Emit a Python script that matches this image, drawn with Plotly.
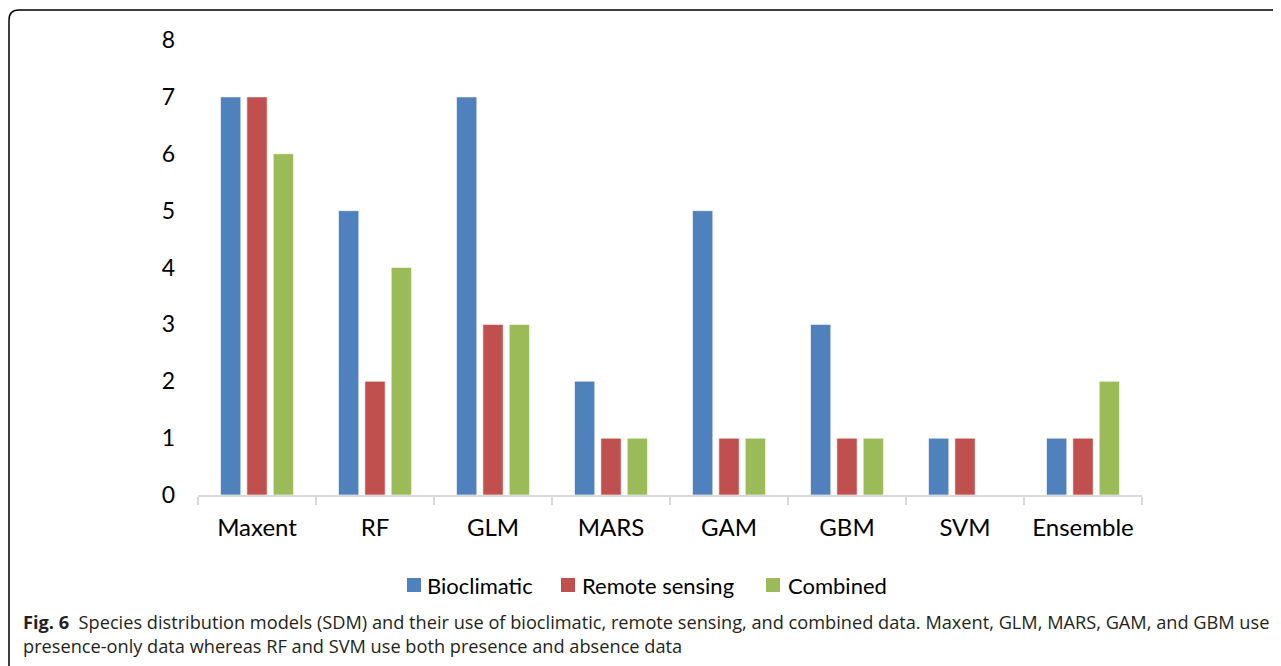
import plotly.graph_objects as go

categories = ["Maxent", "RF", "GLM", "MARS", "GAM", "GBM", "SVM", "Ensemble"]
bioclimatic = [7, 5, 7, 2, 5, 3, 1, 1]
remote_sensing = [7, 2, 3, 1, 1, 1, 1, 1]
combined = [6, 4, 3, 1, 1, 1, 0, 2]
y_ticks = [0, 1, 2, 3, 4, 5, 6, 7, 8]
series_names = ["Bioclimatic", "Remote sensing", "Combined"]
series_colors = ["#4F81BD", "#C0504D", "#9BBB59"]

W, H = 1281, 666
OFF = 8  # page body margin
L, R, T, B = 190, 147, 32, 179
pw, ph = W - L - R, H - T - B

def px(x):
    return (x - OFF - L) / pw

def py(y):
    return (H - B - (y - OFF)) / ph

FONT = "Lato"

fig = go.Figure()
for name, vals, col in zip(series_names, [bioclimatic, remote_sensing, combined], series_colors):
    fig.add_trace(go.Bar(x=categories, y=vals, name=name, showlegend=False,
                         marker=dict(color=col, line=dict(color="rgba(255,255,255,0.6)", width=1))))

fig.update_layout(
    width=W, height=H,
    margin=dict(l=L, r=R, t=T, b=B),
    paper_bgcolor="white", plot_bgcolor="white",
    barmode="group", bargap=0.33, bargroupgap=0.23,
    font=dict(family=FONT, size=22, color="black"),
    showlegend=False,
    xaxis=dict(showline=True, linecolor="#D9D9D9", linewidth=2, ticks="outside",
               tickson="boundaries", ticklen=8, tickwidth=2, tickcolor="#D9D9D9",
               showgrid=False, tickfont=dict(family=FONT, size=24), ticklabelstandoff=10),
    yaxis=dict(range=[0, 8], tickvals=y_ticks, showgrid=False, showline=False, zeroline=False,
               tickfont=dict(family=FONT, size=23), ticklabelstandoff=22),
)

# custom legend
leg_sq_x = [407, 561, 766]
leg_txt_x = [425, 580, 786]
leg_y = 585
for name, col, sx, tx in zip(series_names, series_colors, leg_sq_x, leg_txt_x):
    fig.add_shape(type="rect", xref="paper", yref="paper",
                  x0=px(sx), x1=px(sx + 14), y0=py(leg_y + 7), y1=py(leg_y - 7),
                  fillcolor=col, line=dict(width=0))
    fig.add_annotation(xref="paper", yref="paper", x=px(tx), y=py(leg_y), xanchor="left",
                       yanchor="middle", showarrow=False, text=name,
                       font=dict(family=FONT, size=22, color="black"))

# frame with rounded top-left corner
x0, x1 = px(9), px(19)
y0, y1 = py(10), py(20)
fig.add_shape(type="path", xref="paper", yref="paper",
              path=f"M {x0} {py(720)} L {x0} {y1} Q {x0} {y0} {x1} {y0} L {px(1320)} {y0}",
              line=dict(color="black", width=1.5))

cap_font = dict(family="Open Sans", size=18.2, color="#231F20")
fig.add_annotation(xref="paper", yref="paper", x=px(21), y=py(622), xanchor="left", yanchor="middle",
                   showarrow=False, align="left",
                   text="<b>Fig. 6</b>  Species distribution models (SDM) and their use of bioclimatic, remote sensing, and combined data. Maxent, GLM, MARS, GAM, and GBM use",
                   font=cap_font)
fig.add_annotation(xref="paper", yref="paper", x=px(21), y=py(646), xanchor="left", yanchor="middle",
                   showarrow=False, align="left",
                   text="presence-only data whereas RF and SVM use both presence and absence data",
                   font=cap_font)

fig.write_html("out.html")
